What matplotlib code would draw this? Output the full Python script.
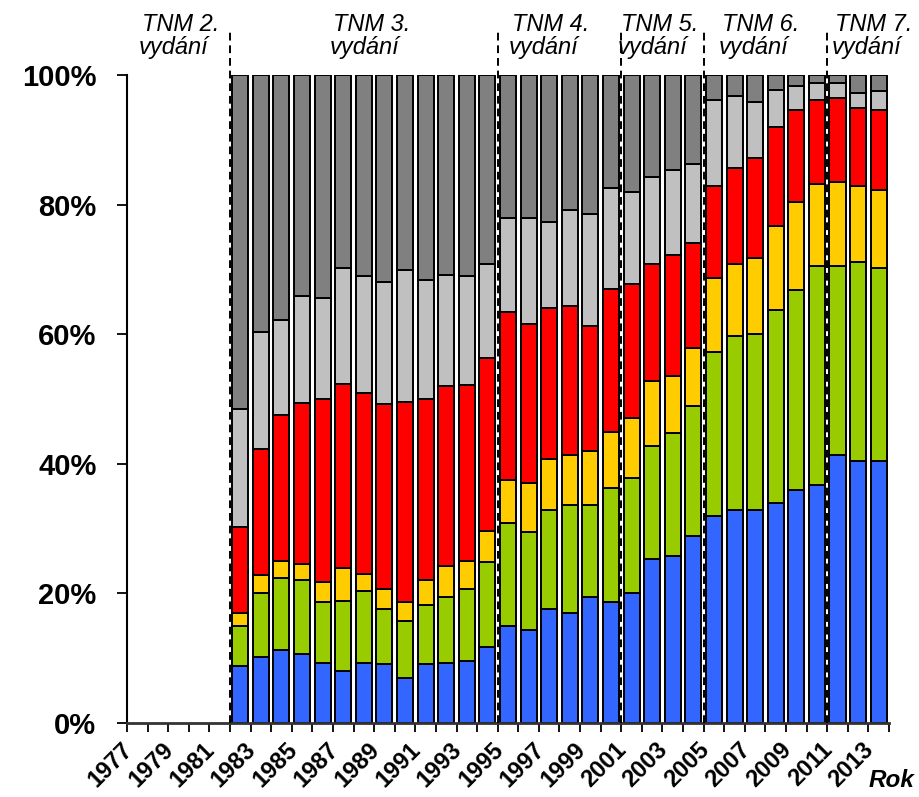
import matplotlib
matplotlib.use('Agg')
import matplotlib.pyplot as plt
import matplotlib.transforms as mtransforms
import numpy as np

plt.rcParams['font.family'] = ['Liberation Sans', 'DejaVu Sans']

# ---------------- data ----------------
years = list(range(1983, 2015))
blue = [8.8, 10.2, 11.2, 10.6, 9.3, 8.1, 9.3, 9.1, 6.9, 9.1, 9.3, 9.6, 11.8, 14.9, 14.4, 17.6,
        17.0, 19.5, 18.6, 20.1, 25.3, 25.7, 28.8, 31.9, 32.8, 32.8, 34.0, 35.9, 36.8, 41.4, 40.5, 40.5]
green = [6.1, 9.8, 11.1, 11.4, 9.3, 10.8, 11.1, 8.5, 8.9, 9.1, 10.2, 11.1, 13.0, 16.0, 15.0, 15.2,
         16.7, 14.2, 17.7, 17.7, 17.4, 19.0, 20.1, 25.3, 26.9, 27.2, 29.7, 30.9, 33.7, 29.1, 30.6, 29.7]
yellow = [2.1, 2.9, 2.7, 2.5, 3.1, 5.0, 2.6, 3.1, 2.8, 3.8, 4.7, 4.3, 4.9, 6.6, 7.7, 8.0,
          7.7, 8.3, 8.6, 9.3, 10.1, 8.8, 9.0, 11.4, 11.2, 11.7, 13.0, 13.6, 12.7, 13.0, 11.8, 12.1]
red = [13.3, 19.4, 22.6, 24.9, 28.3, 28.4, 28.0, 28.6, 30.9, 28.0, 27.8, 27.2, 26.7, 25.9, 24.4, 23.3,
       22.9, 19.3, 22.0, 20.7, 18.1, 18.7, 16.1, 14.3, 14.8, 15.5, 15.2, 14.2, 13.0, 12.9, 12.0, 12.3]
light_gray = [18.2, 18.0, 14.6, 16.5, 15.6, 17.9, 18.0, 18.8, 20.4, 18.4, 17.2, 16.8, 14.4, 14.6, 16.5, 13.2,
              14.9, 17.3, 15.7, 14.2, 13.3, 13.2, 12.2, 13.3, 11.1, 8.7, 5.8, 3.7, 2.5, 2.3, 2.3, 2.9]
dark_gray = [51.5, 39.7, 37.8, 34.1, 34.4, 29.8, 31.0, 31.9, 30.1, 31.6, 30.8, 31.0, 29.2, 22.0, 22.0, 22.7,
             20.8, 21.4, 17.4, 18.0, 15.8, 14.6, 13.8, 3.8, 3.2, 4.1, 2.3, 1.7, 1.3, 1.3, 2.8, 2.5]

series = [blue, green, yellow, red, light_gray, dark_gray]
colors = ['#3366FF', '#99CC00', '#FFCC00', '#FF0000', '#C0C0C0', '#808080']

year_labels = list(range(1977, 2014, 2))
y_ticks = [0, 20, 40, 60, 80, 100]
y_tick_labels = ['0%', '20%', '40%', '60%', '80%', '100%']

edition_bounds = [1982.5, 1995.5, 2001.5, 2005.5, 2011.5]
edition_names = ['TNM 2.', 'TNM 3.', 'TNM 4.', 'TNM 5.', 'TNM 6.', 'TNM 7.']
edition_sub = 'vydání'
x_label = 'Rok'

# ---------------- figure ----------------
W, H = 920, 797
fig = plt.figure(figsize=(W / 100, H / 100), dpi=100)
ax = fig.add_axes([127 / W, 1 - 723 / H, (889 - 127) / W, (723 - 75) / H])

data = np.array(series, dtype=float)
data = data / data.sum(axis=0) * 100
bottom = np.zeros(len(years))
for vals, c in zip(data, colors):
    ax.bar(years, vals, bottom=bottom, width=0.78, color=c, edgecolor='black',
           linewidth=1.4, zorder=2)
    bottom += vals

ax.set_xlim(1977.5, 2014.5)
ax.set_ylim(0, 100)

# y axis
ax.set_yticks(y_ticks)
ax.set_yticklabels(y_tick_labels, fontsize=21, fontweight='bold')
ax.tick_params(axis='y', direction='out', length=7, width=1.3, pad=15)

# x axis: ticks at category boundaries, labels drawn as text
ax.set_xticks(np.arange(1977.5, 2015, 1.0))
ax.set_xticklabels([])
ax.tick_params(axis='x', direction='out', length=6.5, width=1.3)

for s in ['top', 'right']:
    ax.spines[s].set_visible(False)
ax.spines['left'].set_linewidth(1.5)
ax.spines['bottom'].set_linewidth(2.0)
ax.spines['bottom'].set_color('#333333')

trans = mtransforms.blended_transform_factory(ax.transData, ax.transAxes)
trans = trans + mtransforms.ScaledTranslation(4 / 100, -15 / 100, fig.dpi_scale_trans)
for yr in year_labels:
    ax.text(yr, 0, str(yr), transform=trans, rotation=45, rotation_mode='anchor',
            ha='right', va='top', fontsize=17, fontweight='bold', clip_on=False)

# edition boundaries
for b in edition_bounds:
    ax.plot([b, b], [0, 107], color='black', lw=1.4, ls=(0, (4, 2.5)),
            clip_on=False, zorder=5)

edition_x_px = [142, 333, 512, 621, 722, 835]
for name, xp in zip(edition_names, edition_x_px):
    fig.text(xp / W, 1 - 31 / H, name, fontsize=17, fontstyle='italic',
             ha='left', va='baseline')
    fig.text((xp - 3) / W, 1 - 54 / H, edition_sub, fontsize=17, fontstyle='italic',
             ha='left', va='baseline')

fig.text(869 / W, 1 - 787 / H, x_label, fontsize=17.5, fontweight='bold',
         fontstyle='italic', ha='left', va='baseline')

fig.savefig('out.png', dpi=100)
